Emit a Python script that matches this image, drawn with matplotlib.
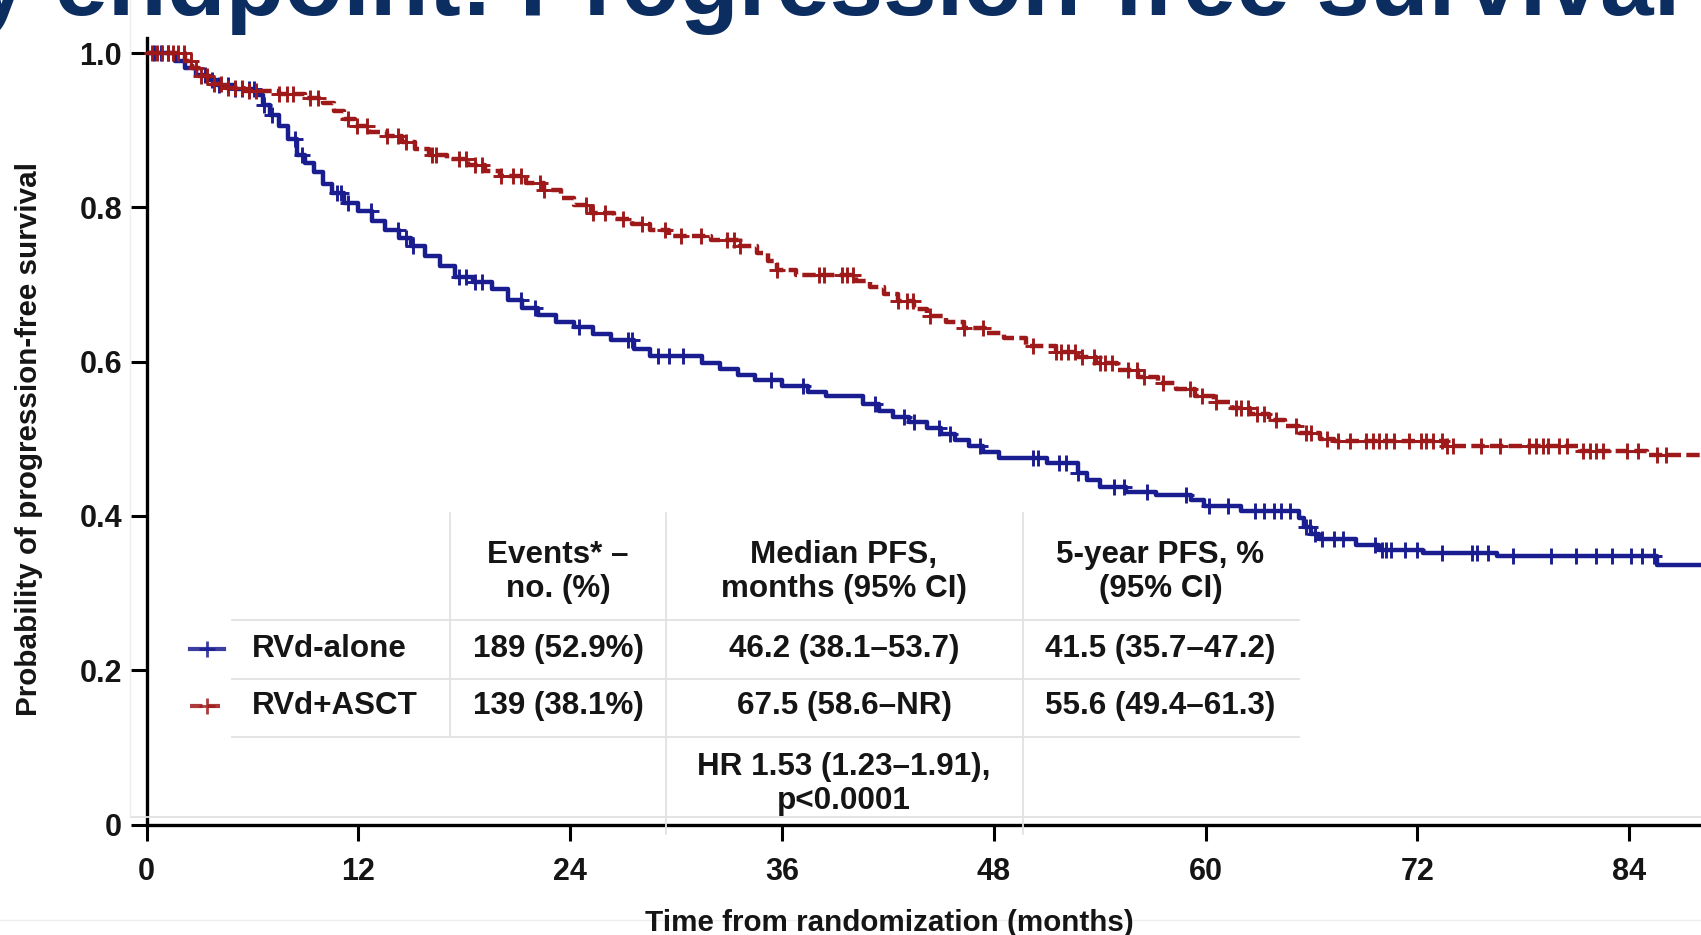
"""
Kaplan-Meier PFS curves, RVd-alone vs RVd+ASCT, with summary table
"""

#---------------------------------------------------------------------------------------------------
# Import Modules
#---------------------------------------------------------------------------------------------------

import numpy as np
import matplotlib
matplotlib.use('Agg')
import matplotlib.pyplot as plt


#---------------------------------------------------------------------------------------------------
# Input Data
#---------------------------------------------------------------------------------------------------

title = 'Primary endpoint: Progression-free survival'

# RVd-alone: step times (months) and survival just after each step
blue_t = [0, 1.6, 2.2, 2.8, 3.4, 4.0, 5.0, 6.2, 6.6, 7.0, 7.5, 8.0, 8.5, 9.0, 9.5, 10.0, 10.5,
          11.2, 12.0, 12.8, 13.5, 14.3, 15.0, 15.8, 16.6, 17.5, 18.5, 19.6, 20.5, 21.3, 22.2,
          23.2, 24.2, 25.3, 26.3, 27.6, 28.5, 31.5, 32.5, 33.5, 34.5, 36.0, 37.5, 38.5, 40.6,
          41.5, 42.3, 43.2, 44.2, 45.0, 45.8, 46.6, 47.4, 48.3, 51.0, 52.8, 53.3, 54.0, 55.5,
          57.2, 59.2, 59.9, 62.0, 65.3, 65.6, 66.0, 66.4, 68.5, 69.8, 72.3, 76.5, 85.6, 88.1]
blue_s = [1.0, 0.99, 0.98, 0.972, 0.965, 0.959, 0.954, 0.946, 0.933, 0.92, 0.905, 0.888, 0.868,
          0.858, 0.846, 0.830, 0.818, 0.806, 0.795, 0.782, 0.770, 0.760, 0.750, 0.737, 0.724, 0.710,
          0.703, 0.694, 0.680, 0.670, 0.660, 0.652, 0.645, 0.636, 0.628, 0.616, 0.607, 0.598,
          0.590, 0.583, 0.576, 0.568, 0.561, 0.555, 0.545, 0.536, 0.528, 0.522, 0.514, 0.506, 0.498,
          0.490, 0.483, 0.475, 0.469, 0.456, 0.447, 0.438, 0.431, 0.427, 0.420, 0.413, 0.407,
          0.397, 0.386, 0.376, 0.370, 0.362, 0.356, 0.352, 0.348, 0.337, 0.337]
blue_censor = [0.4, 0.8, 1.2, 3.3, 3.7, 4.1, 4.6, 5.0, 5.4, 5.8, 6.1, 6.65, 7.1, 8.4, 8.8, 10.8,
               11.0, 11.4, 12.7, 14.25, 14.7, 15.1, 17.7, 18.1, 18.6, 19.0, 21.2, 22.0, 24.5,
               27.3, 27.5, 29.0, 29.6, 30.4, 35.4, 37.2, 41.3, 42.9, 43.5, 44.9, 45.5, 47.2,
               50.2, 50.5, 51.7, 52.1, 52.8, 54.8, 55.4, 56.7, 58.9, 60.2, 61.3, 62.8, 63.3,
               63.9, 64.3, 64.8, 65.7, 65.9, 66.2, 66.6, 67.3, 67.8, 69.6, 70.0, 70.2, 70.5,
               71.3, 72.0, 73.4, 75.1, 75.4, 76.0, 77.4, 79.6, 81.0, 82.1, 83.0, 84.1, 84.7, 85.4]

# RVd+ASCT
red_t = [0, 2.2, 2.6, 3.0, 3.6, 4.5, 5.5, 7.5, 9.0, 10.0, 10.6, 11.2, 11.8, 12.6, 13.6, 14.5,
         15.2, 16.0, 17.0, 18.2, 19.2, 20.0, 21.5, 22.5, 23.5, 24.2, 25.2, 26.5, 27.5, 28.5,
         29.6, 32.0, 33.6, 34.6, 35.2, 35.7, 36.8, 40.2, 41.0, 41.8, 42.6, 43.5, 44.2, 45.3,
         46.3, 47.5, 48.6, 49.8, 51.5, 52.8, 53.8, 55.0, 56.2, 57.3, 58.3, 59.4, 60.5, 61.5,
         62.5, 63.6, 64.5, 65.3, 66.5, 67.3, 73.6, 81.2, 85.0, 88.1]
red_s = [1.0, 0.99, 0.98, 0.97, 0.96, 0.955, 0.951, 0.947, 0.942, 0.935, 0.925, 0.915, 0.906,
         0.898, 0.892, 0.885, 0.876, 0.868, 0.862, 0.855, 0.847, 0.84, 0.832, 0.823, 0.812,
         0.803, 0.793, 0.785, 0.778, 0.77, 0.763, 0.757, 0.750, 0.741, 0.73, 0.719, 0.712,
         0.705, 0.697, 0.688, 0.678, 0.668, 0.659, 0.652, 0.644, 0.637, 0.630, 0.62, 0.613,
         0.606, 0.598, 0.589, 0.58, 0.572, 0.564, 0.556, 0.548, 0.54, 0.532, 0.524, 0.516,
         0.508, 0.5, 0.4965, 0.490, 0.4835, 0.479, 0.479]
red_censor = [0.3, 0.6, 0.9, 1.2, 1.5, 1.8, 2.1, 2.5, 2.8, 3.1, 3.4, 3.8, 4.2, 4.6, 5.0, 5.4, 5.8,
              6.2, 7.5, 7.95, 8.3, 9.25, 9.7, 11.4, 11.9, 12.5, 13.6, 14.25, 14.7, 16.2, 16.4,
              17.7, 18.1, 18.6, 19.0, 20.1, 20.75, 21.2, 22.3, 22.5, 24.9, 25.3, 26.0, 27.0,
              28.1, 29.4, 30.3, 31.4, 32.9, 33.3, 33.6, 35.7, 38.1, 38.4, 39.4, 39.7, 40.0,
              42.6, 43.1, 43.4, 44.4, 46.3, 47.4, 50.2, 51.5, 51.8, 52.2, 52.6, 53.0, 53.7,
              54.0, 54.3, 54.7, 55.6, 56.1, 56.5, 57.6, 59.1, 59.8, 60.6, 61.7, 62.0, 62.4,
              62.9, 63.3, 64.0, 65.1, 65.7, 66.0, 66.9, 67.5, 68.2, 69.1, 69.5, 69.8, 70.2,
              70.7, 71.5, 72.2, 72.5, 72.9, 73.4, 73.7, 74.0, 75.6, 76.7, 78.3, 78.7, 79.1,
              79.4, 80.0, 80.5, 81.4, 81.8, 82.1, 82.5, 83.9, 84.5, 85.6, 86.1]

xticks = [0, 12, 24, 36, 48, 60, 72, 84]
yticks = [0, 0.2, 0.4, 0.6, 0.8, 1.0]
ytick_labels = ['0', '0.2', '0.4', '0.6', '0.8', '1.0']

# Summary table
col_headers = ['Events* \u2013\nno. (%)', 'Median PFS,\nmonths (95% CI)', '5-year PFS, %\n(95% CI)']
row_names = ['RVd-alone', 'RVd+ASCT']
events = ['189 (52.9%)', '139 (38.1%)']
median_pfs = ['46.2 (38.1\u201353.7)', '67.5 (58.6\u2013NR)']
pfs_5yr = ['41.5 (35.7\u201347.2)', '55.6 (49.4\u201361.3)']
hr_text = 'HR 1.53 (1.23\u20131.91),\np<0.0001'


#---------------------------------------------------------------------------------------------------
# Plot
#---------------------------------------------------------------------------------------------------

plt.rcParams['font.family'] = ['Liberation Sans', 'DejaVu Sans']
plt.rcParams['font.weight'] = 'bold'

blue = '#1a1d90'
red = '#9e1a1a'
txt = '#151515'
grid_c = '#e2e2e2'
W, H = 1701, 935
red_ls = (0, (3, 1.2))

fig = plt.figure(figsize=(W / 100, H / 100), dpi=100)

# Main axes: x=0 at px 146.5, y=0 at px 824.5, y=1 at px 53
ax = fig.add_axes([146.5 / W, 110.5 / H, 1554.5 / W, 786.9 / H])
ax.set_xlim(0, 88.07)
ax.set_ylim(0, 1.02)


def censor_y(t, s, c):
    idx = np.searchsorted(np.array(t), np.array(c), side='right') - 1
    return np.array(s)[idx]


ax.step(blue_t, blue_s, where='post', color=blue, lw=3.2, zorder=3)
ax.plot(blue_censor, censor_y(blue_t, blue_s, blue_censor), ls='none', marker='+',
        ms=11, mew=2.1, color=blue, zorder=3, clip_on=False)
ax.step(red_t, red_s, where='post', color=red, lw=3.2, ls=red_ls, zorder=4)
ax.plot(red_censor, censor_y(red_t, red_s, red_censor), ls='none', marker='+',
        ms=11, mew=2.1, color=red, zorder=4, clip_on=False)

for side in ['top', 'right']:
    ax.spines[side].set_visible(False)
for side in ['left', 'bottom']:
    ax.spines[side].set_linewidth(2.4)
    ax.spines[side].set_color('black')
ax.set_xticks(xticks)
ax.set_xticklabels([str(x) for x in xticks])
ax.set_yticks(yticks)
ax.set_yticklabels(ytick_labels)
ax.tick_params(axis='both', direction='out', length=11.5, width=2.2, labelsize=22,
               colors='black', labelcolor=txt)
ax.tick_params(axis='x', pad=12)
ax.tick_params(axis='y', pad=6)
for lab in ax.get_xticklabels() + ax.get_yticklabels():
    lab.set_fontweight('bold')
ax.patch.set_alpha(0)

# Overlay in pixel coordinates for title, labels, table
ov = fig.add_axes([0, 0, 1, 1], zorder=5)
ov.set_xlim(0, W)
ov.set_ylim(H, 0)
ov.axis('off')
ov.patch.set_alpha(0)

ov.text(1680, 15, title, ha='right', va='baseline', fontsize=69.3, fontweight='bold',
        color='#0c2d60')

ov.text(29, 439, 'Probability of progression-free survival', rotation=90, ha='center',
        va='center', fontsize=21.3, fontweight='bold', color=txt)
ov.text(889.5, 923, 'Time from randomization (months)', ha='center', va='center',
        fontsize=21.3, fontweight='bold', color=txt)

# Table grid lines
lw_g = 1.3
ov.plot([130, 130], [0, 817], color='#eeeeee', lw=1.0, zorder=0)
ov.plot([0, W], [920, 920], color='#eeeeee', lw=1.0, zorder=0)
for yy in [620, 678.6, 737]:
    ov.plot([232, 1299], [yy, yy], color=grid_c, lw=lw_g, zorder=1)
ov.plot([131, W], [817, 817], color=grid_c, lw=lw_g, zorder=1)
ov.plot([449.5, 449.5], [513, 737], color=grid_c, lw=lw_g, zorder=1)
ov.plot([666, 666], [513, 834], color=grid_c, lw=lw_g, zorder=1)
ov.plot([1022.6, 1022.6], [513, 834], color=grid_c, lw=lw_g, zorder=1)

col_x = [558, 844, 1160.5]
fs_t = 22.6
for cx, hdr in zip(col_x, col_headers):
    ov.text(cx, 572, hdr, ha='center', va='center', fontsize=fs_t, fontweight='bold',
            color=txt, linespacing=1.2)

row_y = [649, 706]
for ry, name, ev, med, p5, c, ls in zip(row_y, row_names, events, median_pfs, pfs_5yr,
                                        [blue, red], ['-', red_ls]):
    ov.plot([190, 224], [ry, ry], color=c, lw=3.0, ls=ls, alpha=0.85)
    ov.plot([207], [ry], marker='+', ms=11, mew=2.0, color=c, alpha=0.85)
    ov.text(252, ry, name, ha='left', va='center', fontsize=fs_t, fontweight='bold', color=txt)
    for cx, val in zip(col_x, [ev, med, p5]):
        ov.text(cx, ry, val, ha='center', va='center', fontsize=fs_t, fontweight='bold',
                color=txt)

ov.text(844, 784, hr_text, ha='center', va='center', fontsize=fs_t, fontweight='bold',
        color=txt, linespacing=1.2)

fig.savefig('out.png', dpi=100)
